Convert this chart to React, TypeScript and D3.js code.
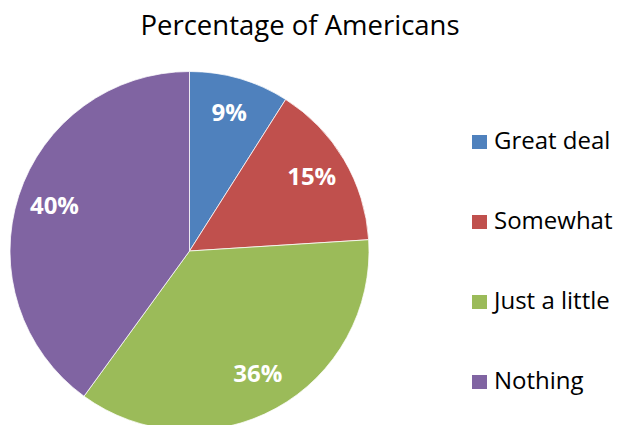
import React from "react";
import * as d3 from "d3";

const categories = ["Great deal", "Somewhat", "Just a little", "Nothing"];
const values = [9, 15, 36, 40];
const colors = ["#4F81BD", "#C0504D", "#9BBB59", "#8064A2"];
const title = "Percentage of Americans";

const W = 619;
const H = 425;
const cx = 189.5;
const cy = 251;
const R = 179.5;
const FONT = "'Open Sans', 'Liberation Sans', sans-serif";

export default function App() {
  const pie = d3.pie<number>().sort(null).value((d) => d)(values);
  const arc = d3.arc<d3.PieArcDatum<number>>().innerRadius(0).outerRadius(R);
  const labelArc = d3
    .arc<d3.PieArcDatum<number>>()
    .innerRadius(142)
    .outerRadius(142);
  const total = d3.sum(values);
  const legendY = d3
    .scalePoint<string>()
    .domain(categories)
    .range([140, 380]);

  return (
    <svg
      width={W}
      height={H}
      style={{ position: "absolute", left: 0, top: 0, background: "#fff" }}
    >
      <text
        x={300}
        y={35}
        textAnchor="middle"
        fontFamily={FONT}
        fontSize={27.5}
        fill="#000"
      >
        {title}
      </text>
      <g transform={`translate(${cx},${cy})`}>
        {pie.map((p, i) => (
          <path
            key={categories[i]}
            d={arc(p) || ""}
            fill={colors[i]}
            stroke="#fff"
            strokeWidth={0.75}
          />
        ))}
        {pie.map((p, i) => {
          const [x, y] = labelArc.centroid(p);
          return (
            <text
              key={"l" + i}
              x={x}
              y={y - 3}
              textAnchor="middle"
              dominantBaseline="central"
              fontFamily={FONT}
              fontWeight="bold"
              fontSize={24}
              fill="#fff"
            >
              {`${Math.round((values[i] / total) * 100)}%`}
            </text>
          );
        })}
      </g>
      {categories.map((c, i) => {
        const y = legendY(c) as number;
        return (
          <g key={"lg" + i}>
            <rect x={472} y={y - 5} width={15} height={14} fill={colors[i]} />
            <text
              x={494}
              y={y - 1}
              dominantBaseline="central"
              fontFamily={FONT}
              fontSize={24}
              fill="#000"
            >
              {c}
            </text>
          </g>
        );
      })}
    </svg>
  );
}
